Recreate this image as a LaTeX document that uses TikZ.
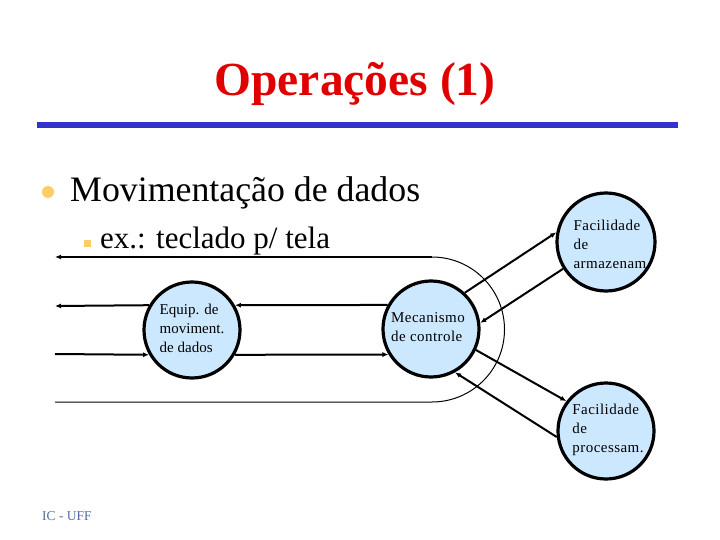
\documentclass[tikz,border=0pt]{standalone}
\usepackage{fontspec}
\setmainfont{Liberation Serif}
\newfontfamily\spacedfont[LetterSpace=3]{Liberation Serif}
\usetikzlibrary{arrows.meta}
\definecolor{titlered}{HTML}{E00000}
\definecolor{barblue}{HTML}{3333CC}
\definecolor{bulletorange}{HTML}{FFCC66}
\definecolor{circfill}{HTML}{CCE8FF}
\definecolor{footblue}{HTML}{50709F}
\tikzset{
  circ/.style={circle, draw=black, line width=3.2pt, fill=circfill, minimum size=#1, inner sep=0pt},
  circtext/.style={align=left, inner sep=0pt, font=\fontsize{15}{19}\selectfont},
  rtext/.style={align=left, inner sep=0pt, font=\fontsize{15}{19}\selectfont\spacedfont},
  arr/.style={line width=2pt, -{Latex[length=6pt,width=5pt]}},
  thinline/.style={line width=1pt}
}
\begin{document}
\begin{tikzpicture}[x=1pt,y=-1pt]
\useasboundingbox (0,0) rectangle (720,540);
% title
\node[anchor=base, text=titlered, font=\fontsize{47.5}{52}\selectfont\bfseries, inner sep=0pt] (title) at (355,96) {Operações (1)};
\fill[barblue] (37,122) rectangle (678,128);
% bullets
\fill[bulletorange] (48,192) circle (6);
\node[anchor=base west, inner sep=0pt, font=\fontsize{35.8}{40}\selectfont] (b1) at (70,202) {Movimentação de dados};
\fill[bulletorange] (83.5,239.5) rectangle (90.5,246.5);
\node[anchor=base west, inner sep=0pt, font=\fontsize{31}{36}\selectfont] (b2) at (100,248) {ex.: teclado p/ tela};
% circles
\node[circ=96] (equip) at (192,330) {};
\node[circtext] (equipt) at (192,328) {Equip. de\\moviment.\\de dados};
\node[circ=96] (mec) at (431,329) {};
\node[rtext] (mect) at (428,327) {Mecanismo\\de controle};
\node[circ=98] (arm) at (606,242) {};
\node[rtext] (armt) at (610,244) {Facilidade\\de\\armazenam};
\node[circ=96] (proc) at (606,431) {};
\node[rtext] (proct) at (608,430) {Facilidade\\de\\processam.};
% free ends
\coordinate (l1) at (55,257);
\coordinate (r1) at (432,257);
\coordinate (l2) at (55,306);
\coordinate (l3) at (55,354);
\coordinate (l4) at (55,402);
% horizontal flows
\draw[arr] (r1) -- (l1);
\draw[thinline] (r1) arc[start angle=-90, end angle=90, radius=72.5] -- (l4);
\draw[arr] (equip.150) -- (l2);
\draw[arr] (mec.151) -- (equip.30);
\draw[arr] (l3) -- (equip.210);
\draw[arr] (equip.330) -- (mec.211);
% diagonal flows
\draw[arr] (mec.47) -- (arm.169);
\draw[arr] (arm.212) -- (mec.7);
\draw[arr] (mec.335) -- (proc.143);
\draw[arr] (proc.187) -- (mec.299);
% footer
\node[anchor=base west, inner sep=0pt, text=footblue, font=\fontsize{13.5}{16}\selectfont] (foot) at (42,520) {IC - UFF};
\end{tikzpicture}
\end{document}
